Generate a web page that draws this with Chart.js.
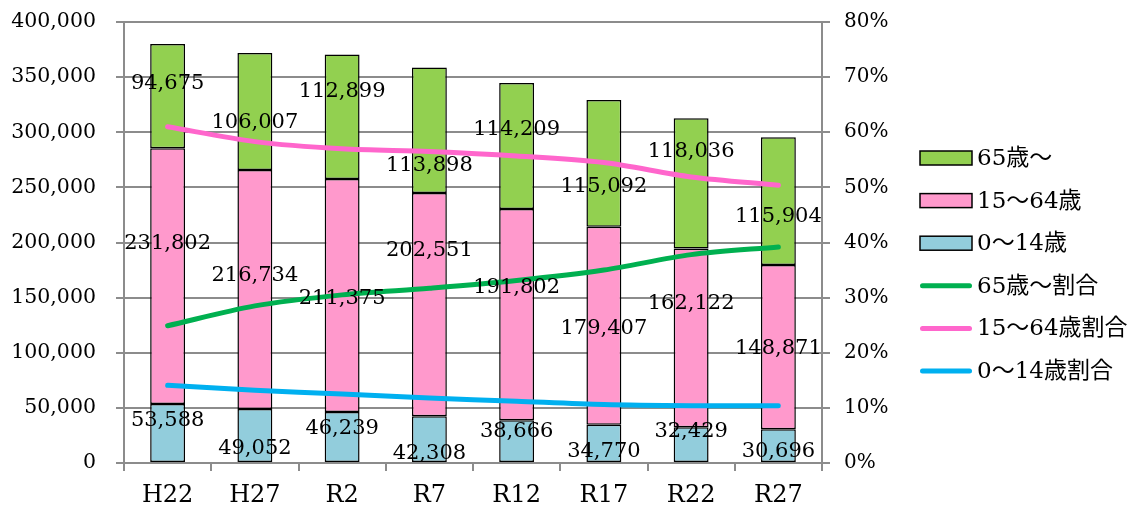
<!DOCTYPE html>
<html lang="ja">
<head>
<meta charset="utf-8">
<title>年齢3区分別人口の推移</title>
<script src="https://cdn.jsdelivr.net/npm/chart.js@4.4.1/dist/chart.umd.min.js"></script>
<style>
  html, body { margin: 0; padding: 0; background: #fff; }
  #wrap { width: 1144px; height: 510px; }
</style>
</head>
<body>
<div id="wrap"><canvas id="popChart" width="1144" height="510"></canvas></div>
<script>
// 年次
const years = ['H22', 'H27', 'R2', 'R7', 'R12', 'R17', 'R22', 'R27'];

// 人口（人）
const age0to14 = [53588, 49052, 46239, 42308, 38666, 34770, 32429, 30696];
const age15to64 = [231802, 216734, 211375, 202551, 191802, 179407, 162122, 148871];
const age65plus = [94675, 106007, 112899, 113898, 114209, 115092, 118036, 115904];

// 割合（%）
const rate65plus = [24.9, 28.5, 30.5, 31.7, 33.1, 35.0, 37.8, 39.2];
const rate15to64 = [61.0, 58.3, 57.0, 56.5, 55.7, 54.5, 51.9, 50.4];
const rate0to14 = [14.1, 13.2, 12.5, 11.8, 11.2, 10.6, 10.4, 10.4];

// 目盛
const countTicks = [0, 50000, 100000, 150000, 200000, 250000, 300000, 350000, 400000];
const rateTicks = [0, 10, 20, 30, 40, 50, 60, 70, 80];

// 数値ラベルを置く高さ（左軸の値）
const labelAt0to14 = [38100, 12700, 31300, 8200, 28100, 10000, 28100, 10000];
const labelAt15to64 = [199500, 169600, 148800, 192800, 159100, 122000, 144700, 103400];
const labelAt65plus = [343800, 308400, 336500, 269400, 302900, 250300, 282100, 223100];

const FONT = "'DejaVu Serif', 'Noto Sans CJK JP', serif";

// 棒ごとの数値
const valueLabels = {
  id: 'valueLabels',
  afterDatasetsDraw(chart) {
    const { ctx, scales: { x, y } } = chart;
    ctx.save();
    ctx.font = '21px ' + FONT;
    ctx.fillStyle = '#000';
    ctx.textAlign = 'center';
    ctx.textBaseline = 'middle';
    chart.data.datasets.forEach(ds => {
      if (!ds.labelAt) return;
      ds.data.forEach((v, i) => {
        ctx.fillText(v.toLocaleString('en-US'), x.getPixelForValue(i), y.getPixelForValue(ds.labelAt[i]));
      });
    });
    ctx.restore();
  }
};

// 右側の凡例
const sideLegend = {
  id: 'sideLegend',
  afterDraw(chart) {
    const { ctx } = chart;
    const left = 920, top = 158, step = 42.6, w = 52;
    const order = [2, 1, 0, 3, 4, 5];
    ctx.save();
    ctx.font = '23px ' + FONT;
    ctx.textBaseline = 'middle';
    order.forEach((di, row) => {
      const ds = chart.data.datasets[di];
      const cy = top + row * step;
      if (ds.type === 'bar') {
        ctx.fillStyle = ds.backgroundColor;
        ctx.fillRect(left, cy - 7, w, 14);
        ctx.strokeStyle = '#000';
        ctx.lineWidth = 1.5;
        ctx.strokeRect(left, cy - 7, w, 14);
      } else {
        ctx.strokeStyle = ds.borderColor;
        ctx.lineWidth = 5;
        ctx.lineCap = 'round';
        ctx.beginPath();
        ctx.moveTo(left + 2.5, cy);
        ctx.lineTo(left + w - 2.5, cy);
        ctx.stroke();
      }
      ctx.fillStyle = '#000';
      ctx.fillText(ds.label, left + w + 5, cy + 1);
    });
    ctx.restore();
  }
};

const barSet = (label, data, color, labelAt) => ({
  type: 'bar', label, data, labelAt,
  backgroundColor: color, borderColor: '#000', borderWidth: 1.5,
  borderSkipped: false, barPercentage: 0.4, categoryPercentage: 1,
  yAxisID: 'y', stack: 'pop', order: 2
});

const lineSet = (label, data, color) => ({
  type: 'line', label, data,
  borderColor: color, backgroundColor: color, borderWidth: 5,
  borderCapStyle: 'round', borderJoinStyle: 'round',
  pointRadius: 0, tension: 0.3, yAxisID: 'y1', order: 1
});

// 縦軸: 幅を固定し、端のラベルぶんの余白は取らない
const fixVertical = width => axis => {
  axis.width = width;
  axis.paddingTop = 0;
  axis.paddingBottom = 0;
};

new Chart(document.getElementById('popChart'), {
  data: {
    labels: years,
    datasets: [
      barSet('0～14歳', age0to14, '#92CDDC', labelAt0to14),
      barSet('15～64歳', age15to64, '#FF99CC', labelAt15to64),
      barSet('65歳～', age65plus, '#92D050', labelAt65plus),
      lineSet('65歳～割合', rate65plus, '#00B050'),
      lineSet('15～64歳割合', rate15to64, '#FF66CC'),
      lineSet('0～14歳割合', rate0to14, '#00B0F0')
    ]
  },
  options: {
    responsive: false,
    animation: false,
    devicePixelRatio: 1,
    layout: { padding: { top: 22, left: 6, right: 255, bottom: 0 } },
    plugins: {
      legend: { display: false },
      tooltip: { enabled: false }
    },
    scales: {
      x: {
        stacked: true,
        offset: true,
        afterFit: axis => { axis.height = 47; axis.paddingLeft = 0; axis.paddingRight = 0; },
        grid: { offset: true, drawOnChartArea: false, color: '#8c8c8c', lineWidth: 2, tickLength: 8 },
        border: { color: '#8c8c8c', width: 2 },
        ticks: { color: '#000', font: { family: FONT, size: 24 }, padding: 10 }
      },
      y: {
        stacked: true,
        min: 0, max: 400000,
        afterFit: fixVertical(118),
        afterBuildTicks: axis => { axis.ticks = countTicks.map(value => ({ value })); },
        grid: { color: '#8c8c8c', lineWidth: 2, tickLength: 8 },
        border: { color: '#8c8c8c', width: 2 },
        ticks: {
          color: '#000', font: { family: FONT, size: 20.5 }, padding: 20,
          callback: v => v.toLocaleString('en-US')
        }
      },
      y1: {
        position: 'right',
        min: 0, max: 80,
        afterFit: fixVertical(67),
        afterBuildTicks: axis => { axis.ticks = rateTicks.map(value => ({ value })); },
        grid: { drawOnChartArea: false, color: '#8c8c8c', lineWidth: 2, tickLength: 8 },
        border: { color: '#8c8c8c', width: 2 },
        ticks: {
          color: '#000', font: { family: FONT, size: 20 }, padding: 14,
          callback: v => v + '%'
        }
      }
    }
  },
  plugins: [valueLabels, sideLegend]
});
</script>
</body>
</html>
